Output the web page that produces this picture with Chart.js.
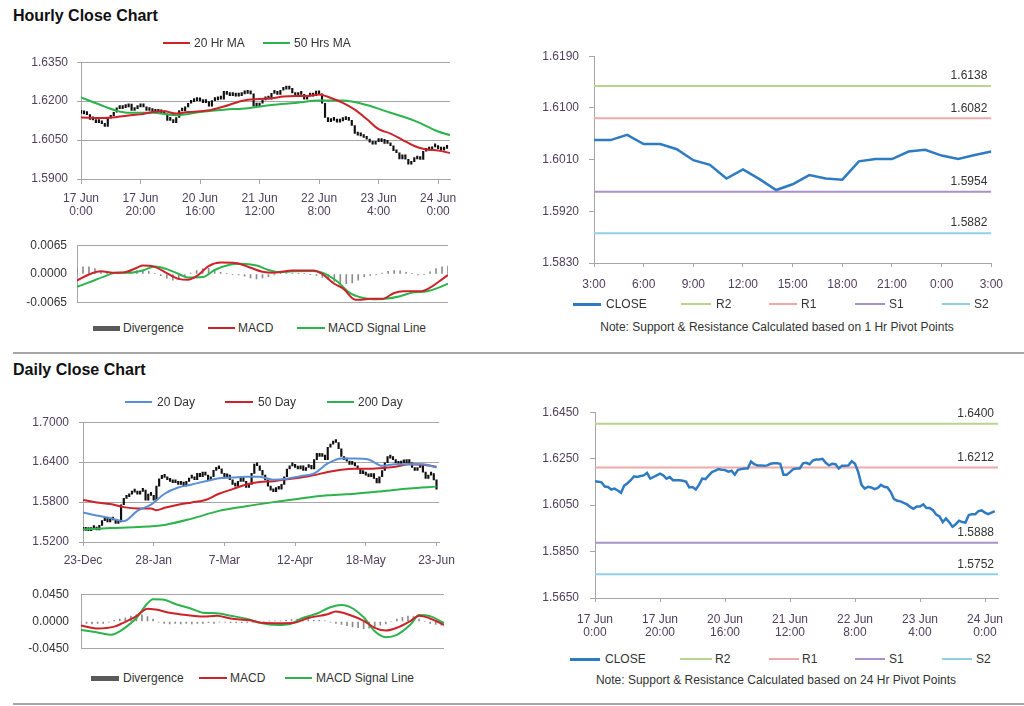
<!DOCTYPE html>
<html>
<head>
<meta charset="utf-8">
<script src="https://cdn.jsdelivr.net/npm/chart.js@4.4.1/dist/chart.umd.min.js"></script>
<style>
  body { margin: 0; background: #fff; font-family: "Liberation Sans", Arial, sans-serif; }
  #page { position: relative; width: 1024px; height: 706px; overflow: hidden; background: #fff; }
  canvas { position: absolute; }
  .title { position: absolute; left: 13px; font-weight: bold; font-size: 16px; line-height: 18px; color: #111; }
  .rule { position: absolute; left: 13px; width: 1011px; height: 2px; background: #a6a6a6; }
  .lg { position: absolute; font-size: 12px; line-height: 14px; color: #333; white-space: nowrap; }
  .sw { position: absolute; }
  .note { position: absolute; font-size: 12px; line-height: 14px; color: #333; white-space: nowrap; transform: translateX(-50%); }
</style>
</head>
<body>
<div id="page">
  <div class="title" style="top:7px">Hourly Close Chart</div>
  <div class="rule" style="top:352px"></div>
  <div class="title" style="top:361px">Daily Close Chart</div>
  <div class="rule" style="top:703px"></div>
  <div class="note" style="left:777px;top:320px">Note: Support &amp; Resistance Calculated based on 1 Hr Pivot Points</div>
  <div class="note" style="left:776px;top:673px">Note: Support &amp; Resistance Calculated based on 24 Hr Pivot Points</div>
</div>
<script>
// Hourly closes, 17 Jun 0:00 (index 0) to 24 Jun 3:00 (index 123), weekend hours skipped
const hourCloses = [
  1.6153, 1.6151, 1.6148, 1.6130, 1.6128, 1.6117, 1.6121, 1.6113, 1.6103, 1.6134,
  1.6144, 1.6157, 1.6174, 1.6171, 1.6175, 1.6178, 1.6189, 1.6164, 1.6171, 1.6178,
  1.6185, 1.6178, 1.6164, 1.6171, 1.6157, 1.6157, 1.6157, 1.6155, 1.6151, 1.6126,
  1.6128, 1.6117, 1.6137, 1.6164, 1.6162, 1.6178, 1.6192, 1.6198, 1.6205, 1.6202,
  1.6201, 1.6194, 1.6198, 1.6181, 1.6202, 1.6205, 1.6208, 1.6208, 1.6238, 1.6226,
  1.6221, 1.6221, 1.6219, 1.6221, 1.6228, 1.6230, 1.6230, 1.6228, 1.6181, 1.6181,
  1.6192, 1.6205, 1.6208, 1.6208, 1.6230, 1.6232, 1.6226, 1.6242, 1.6246, 1.6246,
  1.6249, 1.6232, 1.6221, 1.6228, 1.6226, 1.6208, 1.6219, 1.6219, 1.6221, 1.6239,
  1.6228, 1.6192, 1.6137, 1.6121, 1.6129, 1.6126, 1.6119, 1.6124, 1.6137, 1.6129,
  1.6126, 1.6106, 1.6076, 1.6069, 1.6066, 1.6060, 1.6053, 1.6042, 1.6034,
  1.6044, 1.6044, 1.6053, 1.6037, 1.6037, 1.6028, 1.6009, 1.6001, 1.5977, 1.5993,
  1.5976, 1.5957, 1.5967, 1.5983, 1.5977, 1.5975, 1.6007, 1.6011, 1.6011, 1.6024,
  1.6027, 1.6017, 1.6011, 1.6018, 1.6024
];
const hourTickPos = [0, 20, 40, 60, 80, 100, 120];
const hourTickLabels = [['17 Jun', '0:00'], ['17 Jun', '20:00'], ['20 Jun', '16:00'], ['21 Jun', '12:00'], ['22 Jun', '8:00'], ['23 Jun', '4:00'], ['24 Jun', '0:00']];

// Hourly moving averages (hour index, value)
const ma20Hours = [0, 8, 16, 20, 24, 28, 32, 36, 40, 44, 48, 52, 56, 60, 64, 68, 72, 76, 80, 84, 88, 92, 96, 100, 104, 108, 112, 116, 120, 124];
const ma20Hour = [1.6137, 1.6135, 1.6145, 1.6149, 1.6158, 1.6161, 1.6152, 1.6158, 1.6161, 1.6167, 1.6179, 1.6194, 1.6205, 1.6208, 1.6211, 1.6218, 1.6220, 1.6220, 1.6226, 1.6212, 1.6193, 1.6167, 1.6131, 1.6092, 1.6075, 1.6051, 1.6027, 1.6014, 1.6010, 1.6000];
const ma50Hours = [0, 8, 12, 16, 24, 32, 40, 48, 56, 64, 72, 80, 88, 96, 104, 112, 120, 124];
const ma50Hour = [1.6214, 1.6179, 1.6163, 1.6155, 1.6155, 1.6146, 1.6158, 1.6167, 1.6173, 1.6185, 1.6193, 1.6202, 1.6202, 1.6185, 1.6155, 1.6125, 1.6083, 1.6069];

// Hourly MACD
const macdHours = [0, 4, 8, 12, 16, 20, 22, 26, 30, 34, 37, 40, 44, 48, 53, 58, 62, 66, 72, 79, 82, 86, 89, 93, 95, 98, 102, 106, 109, 115, 118, 121, 124];
const hourMacd = [-0.0015, -0.0001, 0.0006, 0.0003, 0.0004, 0.0014, 0.0019, 0.0016, 0.0002, -0.0011, -0.0013, -0.0005, 0.0018, 0.0026, 0.0025, 0.0014, 0.0005, 0.0003, 0.0008, 0.0008, 0.0000, -0.0022, -0.0033, -0.0058, -0.0058, -0.0056, -0.0056, -0.0043, -0.0039, -0.0039, -0.0031, -0.0017, -0.0002];
const signalHours = [0, 4, 9, 13, 18, 22, 26, 30, 34, 37, 42, 46, 51, 55, 60, 64, 68, 72, 79, 82, 87, 91, 95, 99, 103, 108, 112, 117, 120, 124];
const hourSignal = [-0.0029, -0.0019, -0.0006, 0.0003, 0.0003, 0.0008, 0.0017, 0.0011, 0.0000, -0.0008, -0.0007, 0.0009, 0.0021, 0.0023, 0.0019, 0.0009, 0.0004, 0.0006, 0.0007, 0.0003, -0.0017, -0.0042, -0.0053, -0.0057, -0.0056, -0.0050, -0.0042, -0.0039, -0.0033, -0.0022];
// divergence every 2 hours from hour 0
const hourDiv = [
  0.0012, 0.0016, 0.0016, 0.0012, 0.0006, 0.0002, 0.0001, 0.0001, 0.0002, 0.0005,
  0.0008, 0.0009, 0.0006, 0.0001, -0.0004, -0.0010, -0.0014, -0.0012, -0.0006, 0.0002,
  0.0008, 0.0012, 0.0013, 0.0010, 0.0004, 0.0001, -0.0001, -0.0002, -0.0005, -0.0009,
  -0.0011, -0.0009, -0.0006, -0.0002, 0.0001, 0.0002, 0.0002, 0.0001, 0.0001, -0.0001,
  -0.0003, -0.0008, -0.0013, -0.0017, -0.0021, -0.0022, -0.0020, -0.0014, -0.0006, -0.0003,
  -0.0002, 0.0002, 0.0006, 0.0008, 0.0007, 0.0004, 0.0001, -0.0002, -0.0001, 0.0005,
  0.0012, 0.0016, 0.0018
];

// 1 Hr pivot chart: last 25 hourly closes, 23 Jun 3:00 to 24 Jun 3:00
const pivotHourStart = 99;
const pivotHourTickPos = [0, 3, 6, 9, 12, 15, 18, 21, 24];
const pivotHourTickLabels = ['3:00', '6:00', '9:00', '12:00', '15:00', '18:00', '21:00', '0:00', '3:00'];
const hourLevels = [1.6138, 1.6082, 1.5954, 1.5882];   // R2, R1, S1, S2
const dayLevels = [1.6400, 1.6212, 1.5888, 1.5752];    // R2, R1, S1, S2

// Daily closes, 23-Dec (index 0) to 23-Jun (index 130), trading days
const dayCloses = [
  1.5375, 1.5390, 1.5370, 1.5400, 1.5420, 1.5380, 1.5450, 1.5520, 1.5560, 1.5500,
  1.5540, 1.5530, 1.5480, 1.5500, 1.5760, 1.5855, 1.5880, 1.5920, 1.5950, 1.5960,
  1.5920, 1.5960, 1.5980, 1.5830, 1.5920, 1.5900, 1.5830, 1.6040, 1.6150, 1.6200,
  1.6170, 1.6135, 1.6110, 1.6090, 1.6110, 1.6065, 1.6100, 1.6040, 1.6110, 1.6160,
  1.6180, 1.6135, 1.6230, 1.6180, 1.6250, 1.6205, 1.6135, 1.6180, 1.6275, 1.6320,
  1.6300, 1.6230, 1.6180, 1.6205, 1.6135, 1.6065, 1.6040, 1.6110, 1.6180, 1.6110,
  1.6020, 1.6065, 1.6230, 1.6370, 1.6345, 1.6275, 1.6204, 1.6133, 1.6040, 1.5980,
  1.5955, 1.6017, 1.5993, 1.6066, 1.6180, 1.6297, 1.6344, 1.6367, 1.6320, 1.6297,
  1.6344, 1.6274, 1.6320, 1.6353, 1.6297, 1.6437, 1.6531, 1.6484, 1.6507, 1.6437,
  1.6624, 1.6671, 1.6718, 1.6695, 1.6601, 1.6484, 1.6437, 1.6414, 1.6367, 1.6391,
  1.6344, 1.6297, 1.6227, 1.6250, 1.6204, 1.6180, 1.6227, 1.6157, 1.6087, 1.6180,
  1.6274, 1.6391, 1.6484, 1.6461, 1.6437, 1.6391, 1.6367, 1.6414, 1.6391, 1.6437,
  1.6391, 1.6320, 1.6274, 1.6320, 1.6367, 1.6250, 1.6157, 1.6204, 1.6227, 1.6133,
  1.5993
];
const dayTickPos = [0, 26, 52, 78, 104, 130];
const dayTickLabels = ['23-Dec', '28-Jan', '7-Mar', '12-Apr', '18-May', '23-Jun'];

const ma20Days = [0, 5, 10, 15, 20, 25, 30, 35, 40, 45, 50, 55, 60, 65, 70, 75, 80, 85, 90, 95, 100, 105, 110, 115, 120, 125, 130];
const ma20Day = [1.5644, 1.5597, 1.5560, 1.5513, 1.5668, 1.5761, 1.5925, 1.6018, 1.6065, 1.6112, 1.6158, 1.6168, 1.6182, 1.6180, 1.6135, 1.6150, 1.6190, 1.6230, 1.6380, 1.6455, 1.6455, 1.6440, 1.6344, 1.6370, 1.6367, 1.6367, 1.6320];
const ma50Days = [0, 5, 10, 15, 20, 25, 27, 30, 35, 40, 45, 50, 55, 60, 65, 70, 75, 80, 85, 90, 95, 100, 105, 110, 115, 120, 125, 130];
const ma50Day = [1.5831, 1.5794, 1.5770, 1.5724, 1.5705, 1.5705, 1.5677, 1.5714, 1.5761, 1.5794, 1.5831, 1.5925, 1.5995, 1.6065, 1.6102, 1.6112, 1.6144, 1.6168, 1.6205, 1.6252, 1.6285, 1.6299, 1.6299, 1.6313, 1.6331, 1.6369, 1.6360, 1.6331];
const ma200Days = [0, 10, 20, 30, 40, 50, 60, 70, 80, 90, 100, 110, 120, 130];
const ma200Day = [1.5387, 1.5410, 1.5424, 1.5457, 1.5551, 1.5668, 1.5738, 1.5799, 1.5855, 1.5901, 1.5925, 1.5962, 1.6004, 1.6032];

// Daily MACD
const dMacdDays = [0, 6, 12, 15, 20, 24, 27, 32, 38, 44, 49, 54, 61, 65, 72, 77, 82, 89, 92, 97, 102, 106, 110, 114, 119, 122, 126, 131];
const dayMacd = [-0.0065, -0.0115, -0.0085, -0.0027, 0.0088, 0.0212, 0.0196, 0.0146, 0.0108, 0.0081, 0.0096, 0.0050, 0.0019, -0.0019, -0.0027, -0.0019, 0.0058, 0.0119, 0.0165, 0.0108, 0.0012, -0.0104, -0.0150, -0.0104, 0.0012, 0.0096, 0.0050, -0.0058];
const dSignalDays = [0, 6, 11, 14, 18, 20, 24, 26, 30, 34, 39, 44, 49, 54, 61, 65, 71, 75, 80, 85, 90, 94, 97, 102, 106, 110, 114, 119, 122, 126, 131];
const daySignal = [-0.0142, -0.0180, -0.0219, -0.0162, -0.0027, 0.0058, 0.0300, 0.0365, 0.0358, 0.0288, 0.0223, 0.0146, 0.0135, 0.0096, 0.0031, -0.0027, -0.0058, -0.0046, 0.0058, 0.0127, 0.0235, 0.0273, 0.0242, 0.0069, -0.0162, -0.0258, -0.0219, -0.0046, 0.0108, 0.0088, -0.0027];
// divergence every 2 days from day 0
const dayDiv = [
  -0.002, -0.003, -0.004, -0.003, -0.003, -0.001,
  0.002, 0.004, 0.006, 0.009, 0.011, 0.011, 0.008, 0.004,
  -0.001, -0.003, -0.004, -0.003, -0.004, -0.003, -0.004, -0.003, -0.003, -0.002, -0.003,
  -0.001, -0.001, -0.002, -0.002, -0.002, -0.002, -0.001, -0.001,
  0.000, 0.001, 0.001, 0.001, 0.002, 0.003, 0.004, 0.004, 0.003, 0.002, 0.002, 0.001,
  -0.001, -0.003, -0.005, -0.007, -0.009, -0.010, -0.012, -0.011, -0.009, -0.006,
  -0.004, 0.000, 0.004, 0.007, 0.009, 0.008, 0.004, 0.000, -0.003, -0.005, -0.006
];

// y axis ticks
const hourPriceTicks = [1.5900, 1.6050, 1.6200, 1.6350];
const hourMacdTicks = [-0.0065, 0, 0.0065];
const hourPivotTicks = [1.5830, 1.5920, 1.6010, 1.6100, 1.6190];
const dayPriceTicks = [1.5200, 1.5800, 1.6400, 1.7000];
const dayMacdTicks = [-0.0450, 0, 0.0450];
const dayPivotTicks = [1.5650, 1.5850, 1.6050, 1.6250, 1.6450];

const GRID = '#a6a6a6';
const TICK = '#4d3f5e';
const RED = '#cc2229';
const GREEN = '#2cb34c';
const BLUE = '#5b8fd4';
const CLOSE = '#2f7bc2';
const levelColors = ['#b9d58c', '#eeaaaa', '#a992cc', '#8fd0e6'];
const levelNames = ['R2', 'R1', 'S1', 'S2'];

Chart.defaults.font.family = '"Liberation Sans", Arial, sans-serif';
Chart.defaults.font.size = 12;

const page = document.getElementById('page');

function makeCanvas(left, top, w, h) {
    const c = document.createElement('canvas');
    c.width = w;
    c.height = h;
    c.style.left = left + 'px';
    c.style.top = top + 'px';
    page.appendChild(c);
    return c;
}

function pairs(xs, ys) {
    return ys.map((y, i) => ({ x: xs[i], y: y }));
}

// high-low style bars from previous close to close
function rangeBars(closes) {
    return closes.map((c, i) => ({ x: i, y: [i ? closes[i - 1] : c, c] }));
}

function stepBars(values, step) {
    return values.map((v, i) => ({ x: i * step, y: v }));
}

function line(data, color, width) {
    return {
        type: 'line', data: data, borderColor: color, borderWidth: width,
        pointRadius: 0, tension: 0.4, cubicInterpolationMode: 'monotone', order: 1
    };
}

function fixedTicks(list) {
    return scale => { scale.ticks = list.map(v => ({ value: v })); };
}

function yScale(min, max, ticks, width, tickLen, pad, color, gridOnArea, gridColor) {
    return {
        type: 'linear', min: min, max: max,
        afterBuildTicks: fixedTicks(ticks),
        afterFit: s => { s.width = width; },
        border: { color: GRID },
        grid: {
            drawOnChartArea: gridOnArea, color: gridColor || GRID,
            drawTicks: tickLen > 0, tickLength: tickLen
        },
        ticks: { color: color, padding: pad, callback: v => v.toFixed(4) }
    };
}

function xScale(min, max, pos, labels, height, tickLen, pad) {
    return {
        type: 'linear', min: min, max: max, offset: false,
        afterBuildTicks: fixedTicks(pos),
        afterFit: s => { s.height = height; },
        border: { color: GRID },
        grid: { offset: false, drawOnChartArea: false, color: GRID, tickLength: tickLen },
        ticks: {
            color: TICK, padding: pad, autoSkip: false, maxRotation: 0,
            font: { lineHeight: 1.1 },
            callback: v => labels[pos.indexOf(v)]
        }
    };
}

function hiddenX(max) {
    return { type: 'linear', min: 0, max: max, offset: false, display: false };
}

function baseOptions(padding, scales) {
    return {
        responsive: false, animation: false, events: [],
        layout: { padding: padding },
        plugins: { legend: { display: false }, tooltip: { enabled: false } },
        scales: scales
    };
}

// writes the level value above the right end of each pivot line
const levelLabels = {
    id: 'levelLabels',
    afterDatasetsDraw(chart) {
        const ctx = chart.ctx;
        ctx.save();
        ctx.font = '12px "Liberation Sans", Arial';
        ctx.fillStyle = '#333';
        ctx.textAlign = 'right';
        ctx.textBaseline = 'middle';
        chart.data.datasets.forEach(ds => {
            if (ds.level === undefined) return;
            const y = chart.scales.y.getPixelForValue(ds.level);
            ctx.fillText(ds.level.toFixed(4), chart.chartArea.right - 4, y - 10);
        });
        ctx.restore();
    }
};

function levelSets(levels, xMax) {
    return levels.map((v, i) => ({
        type: 'line', label: levelNames[i], level: v,
        data: [{ x: 0, y: v }, { x: xMax, y: v }],
        borderColor: levelColors[i], borderWidth: 2, pointRadius: 0, order: 2
    }));
}

function legend(y, items) {
    items.forEach(it => {
        const s = document.createElement('div');
        s.className = 'sw';
        s.style.cssText = 'left:' + it[0] + 'px;top:' + (y - it[3] / 2) + 'px;width:' + it[1] +
            'px;height:' + it[3] + 'px;background:' + it[2];
        page.appendChild(s);
        const t = document.createElement('div');
        t.className = 'lg';
        t.style.left = it[4] + 'px';
        t.style.top = (y - 7) + 'px';
        t.textContent = it[5];
        page.appendChild(t);
    });
}

// Hourly price chart
new Chart(makeCanvas(13, 46, 457, 173), {
    type: 'bar',
    data: {
        datasets: [
            line(pairs(ma20Hours, ma20Hour), RED, 2),
            line(pairs(ma50Hours, ma50Hour), GREEN, 2),
            { data: rangeBars(hourCloses), backgroundColor: '#111', barThickness: 1.5, minBarLength: 3, order: 2 }
        ]
    },
    options: baseOptions({ top: 8, right: 20, left: 0, bottom: 0 }, {
        x: xScale(0, 124, hourTickPos, hourTickLabels, 40, 5, 8),
        y: yScale(1.5900, 1.6350, hourPriceTicks, 68, 4, 9, TICK, true)
    })
});
legend(43, [[163, 27, RED, 2, 194, '20 Hr MA'], [263, 27, GREEN, 2, 294, '50 Hrs MA']]);

// Hourly MACD
new Chart(makeCanvas(13, 228, 439, 92), {
    type: 'bar',
    data: {
        datasets: [
            line(pairs(macdHours, hourMacd), RED, 2),
            line(pairs(signalHours, hourSignal), GREEN, 2),
            { data: stepBars(hourDiv, 2), backgroundColor: '#8c8c8c', barThickness: 1, order: 2 }
        ]
    },
    options: baseOptions({ top: 8, right: 4, left: 0, bottom: 6 }, {
        x: hiddenX(124),
        y: yScale(-0.0065, 0.0065, hourMacdTicks, 64, 0, 10, '#333', true,
            c => (c.tick && c.tick.value === 0 ? 'rgba(0,0,0,0)' : GRID))
    })
});
legend(328, [[93, 27, '#5a5a5a', 5, 123, 'Divergence'], [208, 27, RED, 2, 238, 'MACD'], [297, 28, GREEN, 2, 328, 'MACD  Signal Line']]);

// 1 Hr pivot chart
new Chart(makeCanvas(512, 39, 502, 259), {
    type: 'line',
    data: {
        datasets: [
            { label: 'CLOSE', data: hourCloses.slice(pivotHourStart).map((v, i) => ({ x: i, y: v })),
              borderColor: CLOSE, borderWidth: 2.5, pointRadius: 0, tension: 0, order: 1 }
        ].concat(levelSets(hourLevels, 24))
    },
    options: baseOptions({ top: 8, right: 16, left: 0, bottom: 0 }, {
        x: xScale(0, 24, pivotHourTickPos, pivotHourTickLabels, 35, 4, 11),
        y: yScale(1.5830, 1.6190, hourPivotTicks, 82, 5, 10, TICK, false)
    }),
    plugins: [levelLabels]
});
legend(304, [
    [573, 28, CLOSE, 3, 606, 'CLOSE'], [681, 30, levelColors[0], 2, 716, 'R2'],
    [769, 28, levelColors[1], 2, 801, 'R1'], [855, 30, levelColors[2], 2, 889, 'S1'],
    [942, 28, levelColors[3], 2, 974, 'S2']
]);

// Daily price chart
new Chart(makeCanvas(13, 405, 450, 167), {
    type: 'bar',
    data: {
        datasets: [
            line(pairs(ma20Days, ma20Day), BLUE, 2),
            line(pairs(ma50Days, ma50Day), RED, 2),
            line(pairs(ma200Days, ma200Day), GREEN, 2),
            { data: rangeBars(dayCloses), backgroundColor: '#111', barThickness: 1.5, minBarLength: 3, order: 2 }
        ]
    },
    options: baseOptions({ top: 8, right: 20, left: 0, bottom: 0 }, {
        x: xScale(0, 131, dayTickPos, dayTickLabels, 30, 4, 8),
        y: yScale(1.5200, 1.7000, dayPriceTicks, 70, 4, 10, TICK, true)
    })
});
legend(402, [[125, 27, BLUE, 2, 157, '20 Day'], [225, 28, RED, 2, 258, '50 Day'], [327, 27, GREEN, 2, 358, '200 Day']]);

// Daily MACD
new Chart(makeCanvas(13, 575, 435, 93), {
    type: 'bar',
    data: {
        datasets: [
            line(pairs(dMacdDays, dayMacd), RED, 2),
            line(pairs(dSignalDays, daySignal), GREEN, 2),
            { data: stepBars(dayDiv, 2), backgroundColor: '#8c8c8c', barThickness: 1, order: 2 }
        ]
    },
    options: baseOptions({ top: 8, right: 4, left: 0, bottom: 6 }, {
        x: hiddenX(131),
        y: yScale(-0.0450, 0.0450, dayMacdTicks, 68, 0, 12, '#333', true,
            c => (c.tick && c.tick.value === 0 ? 'rgba(0,0,0,0)' : GRID))
    })
});
legend(678, [[91, 28, '#5a5a5a', 5, 123, 'Divergence'], [199, 28, RED, 2, 230, 'MACD'], [285, 27, GREEN, 2, 316, 'MACD  Signal Line']]);

// 24 Hr pivot chart
new Chart(makeCanvas(512, 394, 508, 246), {
    type: 'line',
    data: {
        datasets: [
            { label: 'CLOSE', data: hourCloses.map((v, i) => ({ x: i, y: v })),
              borderColor: CLOSE, borderWidth: 2.5, pointRadius: 0, tension: 0, order: 1 }
        ].concat(levelSets(dayLevels, 124))
    },
    options: baseOptions({ top: 8, right: 22, left: 0, bottom: 0 }, {
        x: xScale(0, 124, hourTickPos, hourTickLabels, 42, 4, 11),
        y: yScale(1.5650, 1.6450, dayPivotTicks, 83, 5, 11, TICK, false)
    }),
    plugins: [levelLabels]
});
legend(659, [
    [570, 30, CLOSE, 3, 605, 'CLOSE'], [680, 32, levelColors[0], 2, 715, 'R2'],
    [769, 30, levelColors[1], 2, 802, 'R1'], [855, 30, levelColors[2], 2, 889, 'S1'],
    [942, 30, levelColors[3], 2, 976, 'S2']
]);
</script>
</body>
</html>
